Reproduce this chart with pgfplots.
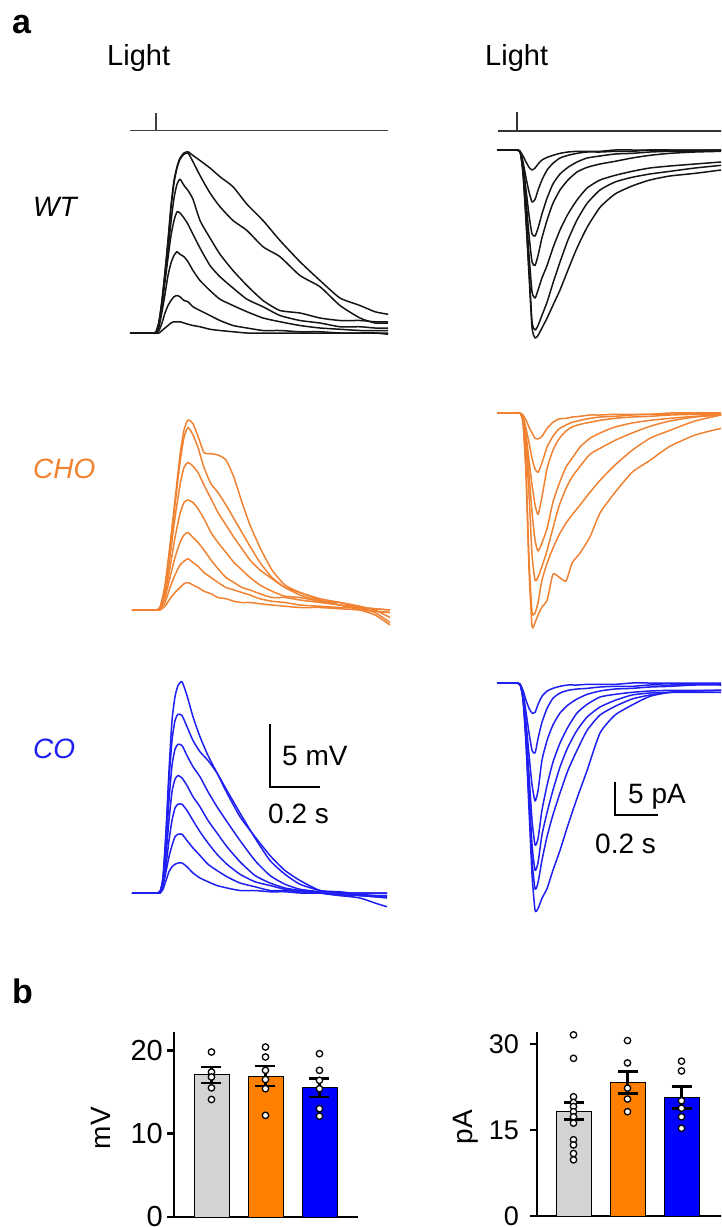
\documentclass[border=0pt]{standalone}
\usepackage{pgfplots}
\usepackage{pgfplotstable}
\usepackage{fontspec}
\setmainfont{Liberation Sans}
\pgfplotsset{compat=1.18}
\definecolor{wtc}{HTML}{151515}
\definecolor{choc}{HTML}{F08232}
\definecolor{coc}{HTML}{1F1FF2}
\definecolor{barorange}{HTML}{FF8000}
\definecolor{barblue}{HTML}{0000FF}
\definecolor{bargray}{HTML}{D3D3D3}

% WT voltage (ms, mV)
\pgfplotstableread{
t a b c d e f g
0 0 0 0 0 0 0 0
88 0 0 0 0 0 0 0
104 0.1 0.1 0 0 0 0 0
116 0.9 0.9 0.8 0.6 0.5 0.2 0
128 2.6 2.6 2.4 2.2 1.7 0.8 0.2
140 4.9 4.8 4.5 4.1 3.1 1.6 0.4
152 7.4 7.3 6.6 6.0 4.6 2.2 0.6
164 10.2 10.0 8.9 7.8 5.6 2.6 0.8
176 12.2 12.0 10.8 9.0 6.2 2.9 0.9
188 13.3 13.2 11.9 9.7 6.5 3.0 0.9
200 14.0 13.9 12.3 9.6 6.3 2.9 0.9
216 14.4 14.3 11.8 9.2 6.1 2.6 0.8
232 14.5 14.4 11.4 8.7 5.7 2.5 0.7
252 14.2 13.7 10.7 7.9 5.0 2.1 0.6
280 13.8 12.6 9.0 6.8 4.2 1.8 0.5
320 13.2 11.2 7.6 5.4 3.4 1.4 0.3
360 12.5 10.1 6.3 4.5 2.7 1.0 0.2
412 11.7 9.0 5.0 3.6 2.2 0.6 0.1
468 10.3 8.2 3.8 2.7 1.7 0.4 0
532 9.0 6.9 2.6 2.1 1.2 0.2 0
600 7.4 6.1 1.8 1.4 0.9 0.2 0
680 5.7 4.6 1.6 1.0 0.6 0.1 0
760 4.2 3.7 1.2 0.8 0.4 0.1 0
840 2.8 2.2 1.0 0.5 0.3 0 0
920 2.2 1.2 1.0 0.5 0.2 0 0
980 1.7 0.8 0.9 0.4 0.2 0 0
1032 1.5 0.8 0.9 0.4 0.2 0 -0.1
}\wtV

% CHO voltage
\pgfplotstableread{
t a b c d e f g
8 0 0 0 0 0 0 0
100 0 0 0 0 0 0 0
120 0.2 0.2 0.2 0.1 0.1 0.1 0
140 2.0 1.8 1.6 1.3 1.0 0.6 0.3
160 5.2 5.0 4.3 3.4 2.6 1.8 0.9
180 8.8 8.4 7.4 5.8 4.2 2.8 1.4
200 12.4 11.8 10.0 7.7 5.4 3.6 1.8
216 14.4 13.8 11.4 8.6 6.0 3.9 2.1
232 15.2 14.6 11.8 8.8 6.2 4.1 2.2
252 14.9 14.0 11.5 8.6 5.8 3.8 2.0
272 13.9 13.0 11.0 8.1 5.4 3.5 1.8
296 12.6 11.4 10.0 7.3 4.8 3.0 1.5
324 12.5 10.1 8.9 6.2 4.0 2.6 1.3
352 12.4 9.4 7.8 5.4 3.3 2.2 1.0
384 12.0 8.4 6.8 4.6 2.6 1.8 0.9
416 10.6 7.3 5.8 3.8 2.2 1.6 0.7
448 8.6 6.2 4.9 3.2 1.8 1.4 0.6
480 6.8 5.1 4.0 2.6 1.6 1.2 0.6
520 5.0 3.8 3.2 2.0 1.3 0.9 0.5
568 3.2 2.6 2.5 1.5 1.0 0.7 0.4
620 2.0 1.8 1.8 1.1 1.0 0.6 0.3
680 1.4 1.2 1.4 1.0 0.8 0.4 0.2
760 0.8 0.7 0.9 0.7 0.6 0.3 0.2
840 0.4 0.4 0.6 0.6 0.4 0.2 0.1
920 0.1 0 0.2 0.3 0.2 0.2 0
980 -0.1 -0.4 0.1 0 -0.2 0.1 -0.1
1040 -0.2 -1.2 0 -0.6 -1.0 0 -0.2
}\choV

% CO voltage
\pgfplotstableread{
t a b c d e f g
8 0 0 0 0 0 0 0
100 0 0 0 0 0 0 0
120 0.1 0.1 0.1 0.1 0.1 0 0
132 1.3 1.2 1.0 0.9 0.7 0.6 0.3
144 5.0 4.6 3.8 3.0 2.2 1.7 1.0
156 9.8 9.0 7.4 5.8 4.2 2.9 1.7
168 13.8 12.2 10.2 8.1 5.8 3.8 2.1
180 15.7 13.8 11.5 9.1 6.8 4.5 2.3
192 16.6 14.3 11.9 9.4 7.1 4.7 2.4
208 16.9 14.2 11.8 9.2 7.1 4.7 2.4
228 15.8 13.3 11.0 8.6 6.6 4.2 2.1
252 14.1 12.2 10.1 7.7 5.8 3.6 1.6
280 12.5 11.3 9.3 6.9 4.9 3.0 1.2
312 11.0 10.6 8.1 5.8 4.0 2.3 0.9
348 9.6 9.6 6.9 4.8 3.1 1.8 0.6
388 8.0 8.2 5.7 3.7 2.3 1.3 0.4
440 6.1 6.4 4.2 2.5 1.5 0.8 0.2
500 4.5 4.4 2.6 1.4 0.9 0.5 0.2
560 3.0 2.6 1.4 0.8 0.6 0.2 0.1
620 1.8 1.5 0.7 0.4 0.3 0.2 0.1
680 1.0 0.7 0.3 0.2 0.2 0.1 0
760 0.2 0.2 0.1 0 0 0 0
840 0.1 0 -0.1 -0.2 -0.2 0 0
920 -0.1 -0.2 -0.2 -0.2 -0.4 0 0
980 -0.2 -0.3 -0.2 -0.3 -0.8 0 0
1028 -0.2 -0.4 -0.2 -0.3 -1.1 0 0
}\coV

% WT current (ms, pA)
\pgfplotstableread{
t a b c d e f g
0 0 0 0 0 0 0 0
84 0 0 0 0 0 0 0
107 -0.2 -0.2 -0.2 -0.2 -0.2 -0.2 -0.2
121 -0.9 -1.8 -2.3 -2.7 -3.0 -3.3 -3.6
135 -1.8 -4.2 -6.0 -7.5 -9.0 -10.2 -10.8
149 -2.6 -6.3 -9.8 -12.8 -15.8 -18.0 -18.8
163 -3.0 -7.8 -12.6 -16.8 -21.3 -25.8 -26.7
177 -2.7 -7.4 -12.9 -17.3 -22.2 -27.0 -28.2
191 -2.1 -6.0 -11.7 -15.8 -21.0 -26.3 -27.8
209 -1.5 -4.5 -9.6 -13.2 -19.2 -24.8 -26.7
233 -1.1 -3.0 -7.2 -10.5 -17.3 -22.8 -25.2
260 -0.8 -2.0 -5.1 -8.0 -14.7 -20.0 -23.3
293 -0.5 -1.2 -3.6 -6.0 -12.0 -16.8 -21.0
330 -0.3 -0.8 -2.6 -4.5 -9.6 -13.5 -18.0
372 -0.2 -0.5 -1.8 -3.3 -7.5 -10.5 -14.7
419 -0.2 -0.3 -1.2 -2.6 -5.7 -8.0 -11.6
479 -0.2 -0.3 -0.9 -2.1 -4.5 -6.0 -8.6
549 0 -0.2 -0.6 -1.7 -3.8 -4.8 -6.6
628 0 -0.2 -0.5 -1.2 -3.2 -4.1 -5.4
711 0 0 -0.3 -0.8 -2.7 -3.6 -4.5
804 0 0 -0.2 -0.5 -2.4 -3.2 -3.9
921 0 0 -0.2 -0.3 -2.1 -2.7 -3.5
1042 0 0 0 -0.2 -1.8 -2.3 -3.0
}\wtI

% CHO current
\pgfplotstableread{
t a b c d e f g
0 0 0 0 0 0 0 0
84 0 0 0 0 0 0 0
107 0 0 0 0 0 0 0
121 -0.3 -0.6 -0.8 -0.9 -1.1 -1.4 -1.5
135 -1.1 -2.3 -3.3 -4.1 -5.3 -8.6 -9.3
149 -2.1 -4.5 -7.1 -9.3 -12.3 -22.1 -23.6
163 -3.0 -6.8 -10.8 -14.9 -21.3 -29.9 -32.0
177 -3.8 -8.4 -13.8 -19.1 -25.1 -30.0 -31.4
191 -3.9 -8.9 -15.2 -20.7 -24.6 -28.4 -30.3
209 -3.5 -7.5 -12.6 -19.5 -23.0 -25.1 -29.1
233 -2.3 -5.1 -8.3 -17.3 -20.6 -22.5 -28.1
260 -1.4 -3.5 -5.6 -13.4 -17.3 -20.3 -24.2
288 -0.9 -2.4 -3.9 -10.7 -14.0 -18.3 -24.6
321 -0.8 -1.8 -2.7 -8.1 -11.3 -16.5 -25.2
349 -0.6 -1.4 -2.1 -6.8 -9.6 -15.3 -22.5
386 -0.5 -1.1 -1.7 -5.1 -8.0 -13.8 -21.0
432 -0.3 -0.8 -1.4 -3.8 -6.2 -11.9 -18.6
479 -0.3 -0.6 -1.1 -3.0 -5.3 -10.1 -15.0
549 -0.2 -0.5 -0.8 -2.1 -4.1 -7.8 -11.9
628 -0.2 -0.3 -0.6 -1.5 -3.0 -5.6 -8.9
711 -0.2 -0.2 -0.5 -1.1 -2.0 -3.8 -7.1
804 0 -0.2 -0.3 -0.8 -1.2 -2.6 -5.0
921 0 0 -0.2 -0.5 -0.6 -1.2 -3.3
1042 0 0 -0.2 -0.3 -0.3 -0.3 -2.3
}\choI

% CO current
\pgfplotstableread{
t a b c d e f g
0 0 0 0 0 0 0 0
84 0 0 0 0 0 0 0
107 -0.2 -0.2 -0.2 -0.2 -0.2 -0.2 -0.2
121 -1.1 -1.5 -1.8 -2.1 -2.3 -2.4 -2.6
135 -2.6 -4.4 -5.9 -7.1 -7.8 -8.6 -9.3
149 -3.8 -7.5 -10.8 -13.8 -16.1 -17.6 -19.1
163 -4.5 -10.1 -15.3 -20.6 -24.3 -26.6 -28.8
177 -4.4 -10.5 -17.7 -24.3 -28.1 -30.9 -34.1
191 -3.2 -8.3 -16.1 -23.3 -26.9 -29.9 -33.8
209 -2.0 -5.9 -11.6 -19.1 -22.8 -26.6 -32.3
233 -1.2 -3.8 -8.6 -15.3 -19.4 -23.0 -30.8
260 -0.8 -2.3 -6.3 -11.9 -16.1 -19.8 -28.1
293 -0.5 -1.5 -4.5 -9.0 -12.6 -16.5 -25.1
330 -0.3 -1.1 -3.3 -6.6 -9.6 -13.1 -21.3
372 -0.3 -0.9 -2.4 -4.5 -7.1 -10.1 -17.3
419 -0.2 -0.8 -1.7 -3.2 -5.1 -7.1 -13.1
479 -0.2 -0.6 -1.2 -2.1 -3.6 -4.8 -7.5
549 -0.2 -0.5 -0.9 -1.7 -2.6 -3.5 -4.8
628 0 -0.5 -0.8 -1.4 -1.8 -2.4 -3.3
711 0 -0.3 -0.6 -1.2 -1.5 -1.8 -2.0
804 0 -0.3 -0.5 -1.1 -1.4 -1.4 -1.4
921 0 -0.2 -0.3 -1.1 -1.4 -1.2 -1.2
1042 0 -0.2 -0.3 -1.1 -1.4 -1.1 -1.1
}\coI

\pgfplotsset{
  trace/.style={hide axis, clip=false, enlargelimits=false, anchor=south west},
  vpanel/.style={trace, x=0.25pt, y=12.5pt, xmin=0, xmax=1040, ymin=-2, ymax=18},
  ipanel/.style={trace, x=0.21505pt, y=6.6667pt, xmin=0, xmax=1042, ymin=-36, ymax=8},
  tr/.style={line width=1.5pt, line join=round, smooth, tension=0.35, no markers},
  barax/.style={anchor=south west, axis lines=left,
    axis line style={-, line width=2.6pt, black},
    clip=false, enlargelimits=false, xtick=\empty,
    tick align=outside, major tick length=7pt,
    ytick style={line width=2.6pt, black},
    /pgf/number format/assume math mode=true,
    yticklabel style={inner sep=0pt},
    bar width=35pt},
  bars/.style={ybar, bar shift=0pt, draw=black, line width=0.9pt,
    error bars/y dir=both, error bars/y explicit,
    error bars/error bar style={line width=2.6pt, black},
    error bars/error mark options={rotate=90, line width=2.6pt, mark size=10pt, black}},
  dots/.style={only marks, mark=*, mark size=3.2pt,
    mark options={fill=white, draw=black, line width=1.3pt}},
}

\begin{document}
\begin{tikzpicture}[x=1pt,y=1pt]
\path[use as bounding box, clip] (0pt,0pt) rectangle (721pt,-1227pt);

% ---------- WT voltage ----------
\begin{axis}[vpanel, at={(130pt,-358pt)}]
  \pgfplotsinvokeforeach{a,b,c,d,e,f,g}{\addplot[tr, wtc] table[x=t, y=#1]{\wtV};}
  \addplot[black!75, line width=1.4pt] coordinates {(0,16.2) (1032,16.2)};
  \addplot[black!75, line width=1.4pt] coordinates {(104,16.2) (104,17.6)};
\end{axis}
% ---------- CHO voltage ----------
\begin{axis}[vpanel, at={(130pt,-635pt)}]
  \pgfplotsinvokeforeach{a,b,c,d,e,f,g}{\addplot[tr, choc] table[x=t, y=#1]{\choV};}
\end{axis}
% ---------- CO voltage ----------
\begin{axis}[vpanel, at={(130pt,-918pt)}]
  \pgfplotsinvokeforeach{a,b,c,d,e,f,g}{\addplot[tr, coc] table[x=t, y=#1]{\coV};}
  \addplot[black, line width=1.6pt] coordinates {(560,13.5) (560,8.5) (760,8.5)};
\end{axis}

% ---------- WT current ----------
\begin{axis}[ipanel, at={(497pt,-390pt)}]
  \pgfplotsinvokeforeach{a,b,c,d,e,f,g}{\addplot[tr, wtc] table[x=t, y=#1]{\wtI};}
  \addplot[black!80, line width=1.4pt] coordinates {(5,2.85) (1100,2.85)};
  \addplot[black!80, line width=1.4pt] coordinates {(93,2.85) (93,5.7)};
\end{axis}
% ---------- CHO current ----------
\begin{axis}[ipanel, at={(497pt,-653pt)}]
  \pgfplotsinvokeforeach{a,b,c,d,e,f,g}{\addplot[tr, choc] table[x=t, y=#1]{\choI};}
\end{axis}
% ---------- CO current ----------
\begin{axis}[ipanel, at={(497pt,-923pt)}]
  \pgfplotsinvokeforeach{a,b,c,d,e,f,g}{\addplot[tr, coc] table[x=t, y=#1]{\coI};}
  \addplot[black, line width=1.6pt] coordinates {(549,-14.8) (549,-19.8) (749,-19.8)};
\end{axis}

% ---------- bar chart mV ----------
\begin{axis}[barax, at={(174pt,-1217pt)}, x=54pt, y=8.3333pt,
    xmin=0.306, xmax=3.713, ymin=0, ymax=22.2, ytick={0,10,20},
    yticklabel style={xshift=-4pt, font=\fontsize{29}{29}\selectfont}]
  \addplot[bars, fill=bargray] coordinates {(1,17.05) +- (0,0.95)};
  \addplot[bars, fill=barorange] coordinates {(2,16.9) +- (0,1.2)};
  \addplot[bars, fill=barblue] coordinates {(3,15.5) +- (0,1.1)};
  \addplot[dots] coordinates {(1,19.8) (1,17.4) (1,16.8) (1,15.5) (1,14.1)};
  \addplot[dots] coordinates {(2,20.4) (2,19.2) (2,17.6) (2,16.5) (2,15.4) (2,12.2)};
  \addplot[dots] coordinates {(3,19.6) (3,17.6) (3,16.4) (3,15.4) (3,13.0) (3,12.1)};
\end{axis}

% ---------- bar chart pA ----------
\begin{axis}[barax, at={(537pt,-1216pt)}, x=54pt, y=5.7333pt,
    xmin=0.324, xmax=3.8, ymin=0, ymax=32.1, ytick={0,15,30},
    yticklabel style={xshift=-11pt, font=\fontsize{27}{27}\selectfont}]
  \addplot[bars, fill=bargray] coordinates {(1,18.3) +- (0,1.5)};
  \addplot[bars, fill=barorange] coordinates {(2,23.3) +- (0,1.9)};
  \addplot[bars, fill=barblue] coordinates {(3,20.7) +- (0,1.9)};
  \addplot[dots] coordinates {(1,31.6) (1,27.5) (1,20.8) (1,19.8) (1,19.1) (1,18.2) (1,17.3) (1,16.2) (1,13.3) (1,12.4) (1,10.9) (1,9.8)};
  \addplot[dots] coordinates {(2,30.6) (2,26.7) (2,22.3) (2,20.4) (2,18.2)};
  \addplot[dots] coordinates {(3,27.0) (3,25.3) (3,20.1) (3,18.8) (3,17.3) (3,15.3)};
\end{axis}

% ---------- texts ----------
\tikzset{lbl/.style={inner sep=0pt, anchor=base west}}
\node[lbl, font=\bfseries\fontsize{34}{34}\selectfont] at (12pt,-33pt) {a};
\node[lbl, font=\bfseries\fontsize{34}{34}\selectfont] at (12pt,-1003pt) {b};
\node[lbl, font=\fontsize{29}{29}\selectfont] at (107pt,-65pt) {Light};
\node[lbl, font=\fontsize{29}{29}\selectfont] at (485pt,-65pt) {Light};
\node[lbl, font=\itshape\fontsize{28}{28}\selectfont] at (33pt,-216pt) {WT};
\node[lbl, font=\itshape\fontsize{28}{28}\selectfont, text=choc] at (33pt,-478pt) {CHO};
\node[lbl, font=\itshape\fontsize{28}{28}\selectfont, text=coc] at (33pt,-758pt) {CO};
\node[lbl, font=\fontsize{28}{28}\selectfont] at (282pt,-765pt) {5 mV};
\node[lbl, font=\fontsize{28}{28}\selectfont] at (268pt,-823pt) {0.2 s};
\node[lbl, font=\fontsize{28}{28}\selectfont] at (628pt,-803pt) {5 pA};
\node[lbl, font=\fontsize{28}{28}\selectfont] at (595pt,-853pt) {0.2 s};
\node[inner sep=0pt, rotate=90, font=\fontsize{28}{28}\selectfont] at (101pt,-1128pt) {mV};
\node[inner sep=0pt, rotate=90, font=\fontsize{28}{28}\selectfont] at (466pt,-1127pt) {pA};
\end{tikzpicture}
\end{document}
